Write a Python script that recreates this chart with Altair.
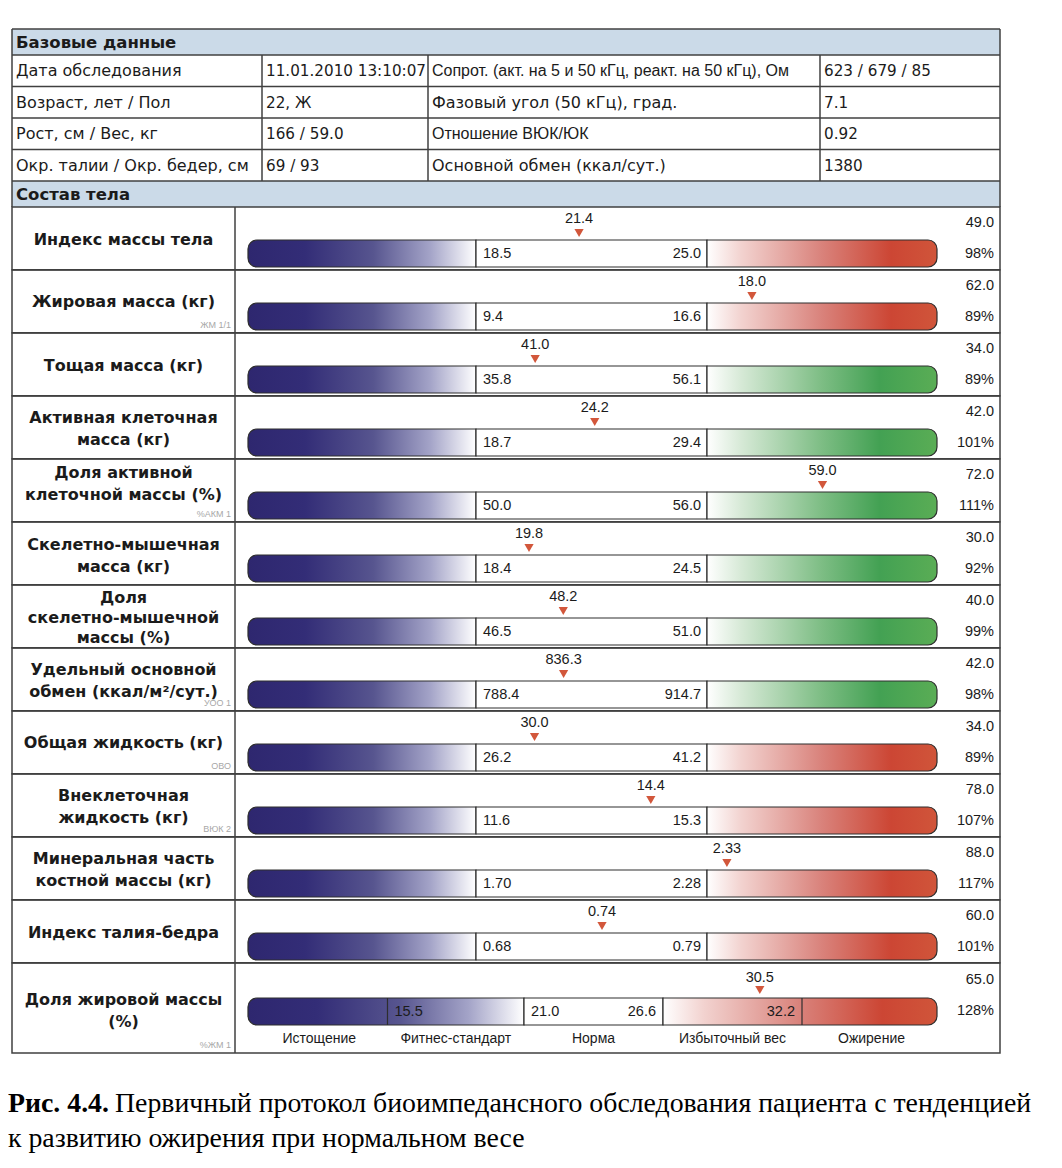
import altair as alt
import pandas as pd

# ------------------------------------------------------------------ data
base_labels_left = ["Дата обследования", "Возраст, лет / Пол",
                    "Рост, см / Вес, кг", "Окр. талии / Окр. бедер, см"]
base_values_left = ["11.01.2010 13:10:07", "22, Ж", "166 / 59.0", "69 / 93"]
base_labels_right = ["Сопрот. (акт. на 5 и 50 кГц, реакт. на 50 кГц), Ом",
                     "Фазовый угол (50 кГц), град.",
                     "Отношение ВЮК/ЮК",
                     "Основной обмен (ккал/сут.)"]
base_values_right = ["623 / 679 / 85", "7.1", "0.92", "1380"]
section_titles = ["Базовые данные", "Состав тела"]

names = ["Индекс массы тела", "Жировая масса (кг)", "Тощая масса (кг)",
         "Активная клеточная\nмасса (кг)", "Доля активной\nклеточной массы (%)",
         "Скелетно-мышечная\nмасса (кг)", "Доля\nскелетно-мышечной\nмассы (%)",
         "Удельный основной\nобмен (ккал/м²/сут.)", "Общая жидкость (кг)",
         "Внеклеточная\nжидкость (кг)", "Минеральная часть\nкостной массы (кг)",
         "Индекс талия-бедра", "Доля жировой массы\n(%)"]
codes = ["", "ЖМ 1/1", "", "", "%АКМ 1", "", "", "УОО 1", "ОВО", "ВЮК 2", "", "", "%ЖМ 1"]
values = [21.4, 18.0, 41.0, 24.2, 59.0, 19.8, 48.2, 836.3, 30.0, 14.4, 2.33, 0.74, 30.5]
norm_lo = [18.5, 9.4, 35.8, 18.7, 50.0, 18.4, 46.5, 788.4, 26.2, 11.6, 1.70, 0.68, 21.0]
norm_hi = [25.0, 16.6, 56.1, 29.4, 56.0, 24.5, 51.0, 914.7, 41.2, 15.3, 2.28, 0.79, 26.6]
decimals = [1, 1, 1, 1, 1, 1, 1, 1, 1, 1, 2, 2, 1]
upper_right = [49.0, 62.0, 34.0, 42.0, 72.0, 30.0, 40.0, 42.0, 34.0, 78.0, 88.0, 60.0, 65.0]
percent = [98, 89, 89, 101, 111, 92, 99, 98, 89, 107, 117, 101, 128]
high_zone = ["red", "red", "green", "green", "green", "green", "green", "green",
             "red", "red", "red", "red", "red"]
fat_bounds = [15.5, 21.0, 26.6, 32.2]
fat_categories = ["Истощение", "Фитнес-стандарт", "Норма", "Избыточный вес", "Ожирение"]
caption_bold = "Рис. 4.4."
caption_line1 = "Первичный протокол биоимпедансного обследования пациента с тенденцией"
caption_line2 = "к развитию ожирения при нормальном весе"

# ------------------------------------------------------------------ style / layout
W = 1046
OFF = 8


def px(ref):
    return ref - OFF


FT = "DejaVu Sans"
FN = "Liberation Sans"
FS = "Liberation Serif"
INK = "#1b1b1b"
LINE = "#404040"
HEAD_BG = "#cbdae8"
BAR_STROKE = "#2e2e2e"
MARK = "#d2573b"
CONDENSED = [0, 2]

L_TBL, R_TBL = px(12), px(1000)
DIV_X = px(235)
BAR_L, BAR_R = px(248), px(937)
NORM_RANGE = [px(476), px(707)]
FAT_RANGE = [px(524), px(663)]


def grad(stops):
    return {"gradient": "linear", "x1": 0, "y1": 0, "x2": 1, "y2": 0,
            "stops": [{"offset": o, "color": c} for o, c in stops]}


NAVY = grad([(0, "#2e276f"), (0.25, "#332d77"), (0.55, "#57558f"),
             (0.8, "#a4a4c8"), (1, "#ffffff")])
RED = grad([(0, "#ffffff"), (0.15, "#f2d2cf"), (0.5, "#d9827b"),
            (0.8, "#cc4634"), (1, "#d0553a")])
GREEN = grad([(0, "#ffffff"), (0.15, "#d6e9d6"), (0.5, "#7dbd84"),
              (0.75, "#43a153"), (1, "#5aad55")])

# ------------------------------------------------------------------ top table
TOP_H = 199
t0 = px(29)
hh = 26
rh = 31.5
row_y = [t0 + hh + k * rh for k in range(5)]

head_df = pd.DataFrame({"y0": [t0, row_y[4]], "y1": [row_y[0], TOP_H],
                        "label": section_titles})
head_df["yc"] = (head_df["y0"] + head_df["y1"]) / 2 + 0.5

cells = []
for k in range(4):
    yc = row_y[k] + rh / 2 + 0.5
    cells.append(dict(text=base_labels_left[k], x=px(16), y=yc, kind="txt"))
    cells.append(dict(text=base_values_left[k], x=px(266), y=yc, kind="num"))
    cells.append(dict(text=base_labels_right[k], x=px(432), y=yc,
                      kind="cond" if k in CONDENSED else "txt"))
    cells.append(dict(text=base_values_right[k], x=px(824), y=yc, kind="num"))
cells_df = pd.DataFrame(cells)

hl_df = pd.DataFrame({"y": [t0] + row_y})
vl_df = pd.DataFrame({"x": [px(262), px(428), px(820)]})
outer_df = pd.DataFrame({"x": [L_TBL, R_TBL]})


def cell_layer(kind, font, size):
    return alt.Chart(cells_df[cells_df["kind"] == kind]).mark_text(
        font=font, fontSize=size, color=INK, align="left", baseline="middle").encode(
        x=alt.X("x:Q", scale=None), y=alt.Y("y:Q", scale=None), text="text:N")


top_layers = [
    alt.Chart(head_df).mark_rect(fill=HEAD_BG).encode(
        x=alt.value(L_TBL), x2=alt.value(R_TBL),
        y=alt.Y("y0:Q", scale=None), y2="y1:Q"),
    alt.Chart(hl_df).mark_rule(color=LINE, strokeWidth=1.5).encode(
        x=alt.value(L_TBL), x2=alt.value(R_TBL), y=alt.Y("y:Q", scale=None)),
    alt.Chart(vl_df).mark_rule(color=LINE, strokeWidth=1.5).encode(
        x=alt.X("x:Q", scale=None), y=alt.value(row_y[0]), y2=alt.value(row_y[4])),
    alt.Chart(outer_df).mark_rule(color=LINE, strokeWidth=1.5).encode(
        x=alt.X("x:Q", scale=None), y=alt.value(t0), y2=alt.value(TOP_H)),
    alt.Chart(head_df).mark_text(font=FT, fontWeight="bold", fontSize=16.5, color=INK,
                                 align="left", baseline="middle").encode(
        x=alt.value(px(16)), y=alt.Y("yc:Q", scale=None), text="label:N"),
    cell_layer("txt", FT, 16),
    cell_layer("num", FT, 15.2),
    cell_layer("cond", FN, 16),
]
top = alt.layer(*top_layers).properties(width=W, height=TOP_H)

# ------------------------------------------------------------------ body rows
ROW_H = 62.85
LAST_H = 90
label_center = [33, 32, 33, 33, 25, 34, 33, 33, 32, 33, 33, 33, 48]


def fmt(v, d):
    return f"{v:.{d}f}"


def row_chart(i):
    last = i == len(names) - 1
    h = LAST_H if last else ROW_H
    d = decimals[i]
    df = pd.DataFrame({
        "name": [names[i]], "code": [codes[i]], "value": [values[i]],
        "vtxt": [fmt(values[i], d)], "lo": [norm_lo[i]], "hi": [norm_hi[i]],
        "lotxt": [fmt(norm_lo[i], d)], "hitxt": [fmt(norm_hi[i], d)],
        "up": [fmt(upper_right[i], 1)], "pct": [f"{percent[i]}%"],
    })
    sc = alt.Scale(domain=[norm_lo[i], norm_hi[i]],
                   range=FAT_RANGE if last else NORM_RANGE,
                   nice=False, zero=False)

    def X(field):
        return alt.X(field, scale=sc, axis=None)

    b_top = 35 if last else 33
    b_bot = 62 if last else 60
    b_mid = (b_top + b_bot) / 2 + 0.5
    mk_y = 27 if last else 26
    val_y = 15 if last else 12
    up_y = 17 if last else 16
    pct_y = 48 if last else 46.5
    nlines = names[i].count("\n") + 1
    lh = 20 if nlines == 3 else 22
    first_line_y = label_center[i] - (nlines - 1) * lh / 2

    base = alt.Chart(df)
    layers = [
        base.mark_rect(fill="transparent", stroke=LINE, strokeWidth=1.5).encode(
            x=alt.value(L_TBL), x2=alt.value(R_TBL), y=alt.value(0), y2=alt.value(h)),
        base.mark_rule(color=LINE, strokeWidth=1.5).encode(
            x=alt.value(DIV_X), y=alt.value(0), y2=alt.value(h)),
        base.mark_text(font=FT, fontWeight="bold", fontSize=16, color=INK,
                       align="center", baseline="middle", lineBreak="\n",
                       lineHeight=lh).encode(
            x=alt.value((L_TBL + DIV_X) / 2), y=alt.value(first_line_y), text="name:N"),
        base.mark_text(font=FN, fontSize=9, color="#a8a8a8", align="right",
                       baseline="middle").encode(
            x=alt.value(DIV_X - 4), y=alt.value(h - 8), text="code:N"),
        # left (deficit) zone
        base.mark_rect(fill=NAVY, stroke=BAR_STROKE, strokeWidth=1.2,
                       cornerRadiusTopLeft=9, cornerRadiusBottomLeft=9).encode(
            x=X("lo:Q"), x2=alt.value(BAR_L),
            y=alt.value(b_top), y2=alt.value(b_bot)),
        # normal zone
        base.mark_rect(fill="#ffffff", stroke=BAR_STROKE, strokeWidth=1.2).encode(
            x=X("lo:Q"), x2="hi:Q",
            y=alt.value(b_top), y2=alt.value(b_bot)),
        # high zone
        base.mark_rect(fill=GREEN if high_zone[i] == "green" else RED,
                       stroke=BAR_STROKE, strokeWidth=1.2,
                       cornerRadiusTopRight=9, cornerRadiusBottomRight=9).encode(
            x=X("hi:Q"), x2=alt.value(BAR_R),
            y=alt.value(b_top), y2=alt.value(b_bot)),
    ]
    if last:
        fb = pd.DataFrame({
            "b": fat_bounds,
            "t": [fmt(v, 1) for v in fat_bounds],
        })
        outer = [fat_bounds[0], fat_bounds[3]]
        layers.append(alt.Chart(pd.DataFrame({"b": outer})).mark_rule(
            color=BAR_STROKE, strokeWidth=1.2).encode(
            x=X("b:Q"), y=alt.value(b_top), y2=alt.value(b_bot)))
        layers.append(alt.Chart(fb.iloc[:2]).mark_text(
            font=FN, fontSize=14.5, color=INK, align="left", baseline="middle", dx=7).encode(
            x=X("b:Q"), y=alt.value(b_mid), text="t:N"))
        layers.append(alt.Chart(fb.iloc[2:]).mark_text(
            font=FN, fontSize=14.5, color=INK, align="right", baseline="middle", dx=-7).encode(
            x=X("b:Q"), y=alt.value(b_mid), text="t:N"))
        seg0 = fat_bounds[1] - fat_bounds[0]
        seg4 = fat_bounds[3] - fat_bounds[2]
        mids = [fat_bounds[0] - seg0 / 2] + \
               [(fat_bounds[k] + fat_bounds[k + 1]) / 2 for k in range(3)] + \
               [fat_bounds[3] + seg4 / 2]
        cat_df = pd.DataFrame({"m": mids, "c": fat_categories})
        layers.append(alt.Chart(cat_df).mark_text(
            font=FN, fontSize=14, color=INK, align="center", baseline="middle").encode(
            x=X("m:Q"), y=alt.value(76), text="c:N"))
    else:
        layers.append(base.mark_text(font=FN, fontSize=14.5, color=INK, align="left",
                                     baseline="middle", dx=7).encode(
            x=X("lo:Q"), y=alt.value(b_mid), text="lotxt:N"))
        layers.append(base.mark_text(font=FN, fontSize=14.5, color=INK, align="right",
                                     baseline="middle", dx=-6).encode(
            x=X("hi:Q"), y=alt.value(b_mid), text="hitxt:N"))
    layers += [
        base.mark_point(shape="triangle-down", filled=True, color=MARK, size=85,
                        opacity=1).encode(
            x=X("value:Q"), y=alt.value(mk_y)),
        base.mark_text(font=FN, fontSize=14.5, color=INK, align="center",
                       baseline="middle").encode(
            x=X("value:Q"), y=alt.value(val_y), text="vtxt:N"),
        base.mark_text(font=FN, fontSize=14.5, color=INK, align="right",
                       baseline="middle").encode(
            x=alt.value(px(994)), y=alt.value(up_y), text="up:N"),
        base.mark_text(font=FN, fontSize=14.5, color=INK, align="right",
                       baseline="middle").encode(
            x=alt.value(px(994)), y=alt.value(pct_y), text="pct:N"),
    ]
    return alt.layer(*layers).properties(width=W, height=h)


rows = [row_chart(i) for i in range(len(names))]

# ------------------------------------------------------------------ caption
CAP_SIZE = 27.8
cap_df = pd.DataFrame({"b": [caption_bold], "l1": [caption_line1], "l2": [caption_line2]})
cbase = alt.Chart(cap_df)
caption = alt.layer(
    cbase.mark_text(font=FS, fontWeight="bold", fontSize=CAP_SIZE, color="#000000",
                    align="left", baseline="alphabetic").encode(
        x=alt.value(0), y=alt.value(59), text="b:N"),
    cbase.mark_text(font=FS, fontSize=CAP_SIZE, color="#000000",
                    align="left", baseline="alphabetic").encode(
        x=alt.value(px(115)), y=alt.value(59), text="l1:N"),
    cbase.mark_text(font=FS, fontSize=CAP_SIZE, color="#000000",
                    align="left", baseline="alphabetic").encode(
        x=alt.value(0), y=alt.value(94), text="l2:N"),
).properties(width=W, height=100)

chart = alt.vconcat(top, *rows, caption, spacing=0, bounds="flush").properties(
    padding=0, background="#ffffff"
).configure_view(strokeWidth=0)

chart.save("out.html", embed_options={"renderer": "svg", "actions": False})
